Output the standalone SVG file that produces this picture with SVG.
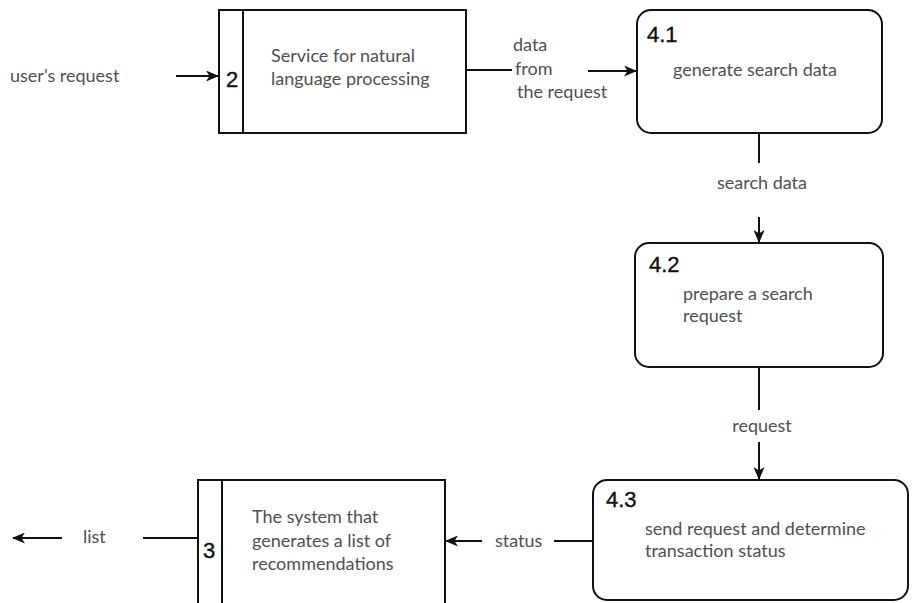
<svg xmlns="http://www.w3.org/2000/svg" width="913" height="603" viewBox="0 0 913 603">
<defs>
<style>
.box{fill:#fff;stroke:#111;stroke-width:2}
.ln{fill:none;stroke:#111;stroke-width:2}
.num{font-family:"Liberation Sans",Arial,sans-serif;font-size:22px;fill:#111;stroke:#111;stroke-width:0.4}
.lbl{font-family:Lato,"Open Sans",sans-serif;font-size:18px;fill:#505050}
</style>
<marker id="ah" viewBox="0 0 13 11" refX="12" refY="5.5" markerWidth="13" markerHeight="11" markerUnits="userSpaceOnUse" orient="auto">
<path d="M0,0 L13,5.5 L0,11 L3.5,5.5 Z" fill="#111"/>
</marker>
</defs>
<rect width="913" height="603" fill="#fff"/>
<g id="connectors">
<line class="ln" x1="176" y1="76" x2="218" y2="76" marker-end="url(#ah)"/>
<line class="ln" x1="466" y1="70" x2="512" y2="70"/>
<line class="ln" x1="588" y1="71" x2="636" y2="71" marker-end="url(#ah)"/>
<line class="ln" x1="759" y1="133" x2="759" y2="163"/>
<line class="ln" x1="759" y1="217" x2="759" y2="242" marker-end="url(#ah)"/>
<line class="ln" x1="759" y1="367" x2="759" y2="410"/>
<line class="ln" x1="759" y1="442" x2="759" y2="479" marker-end="url(#ah)"/>
<line class="ln" x1="593" y1="541" x2="554" y2="541"/>
<line class="ln" x1="482" y1="541" x2="446" y2="541" marker-end="url(#ah)"/>
<line class="ln" x1="198" y1="538" x2="143" y2="538"/>
<line class="ln" x1="62" y1="538" x2="13" y2="538" marker-end="url(#ah)"/>
<text class="lbl" x="10" y="82">user's request</text>
<text class="lbl" x="513" y="51">data</text>
<text class="lbl" x="515" y="75">from</text>
<text class="lbl" x="517" y="98">the request</text>
<text class="lbl" x="762" y="189" text-anchor="middle">search data</text>
<text class="lbl" x="762" y="432" text-anchor="middle">request</text>
<text class="lbl" x="495" y="547">status</text>
<text class="lbl" x="83" y="543">list</text>
</g>
<g id="node-2">
<rect class="box" x="219" y="10" width="247" height="123"/>
<line class="ln" x1="243" y1="10" x2="243" y2="133"/>
<text class="num" x="226" y="87">2</text>
<text class="lbl" x="271" y="62">Service for natural</text>
<text class="lbl" x="271" y="85">language processing</text>
</g>
<g id="node-4-1">
<rect class="box" x="637" y="10" width="245" height="123" rx="14"/>
<text class="num" x="647" y="42">4.1</text>
<text class="lbl" x="673" y="76">generate search data</text>
</g>
<g id="node-4-2">
<rect class="box" x="635" y="243" width="248" height="124" rx="14"/>
<text class="num" x="649" y="272">4.2</text>
<text class="lbl" x="683" y="300">prepare a search</text>
<text class="lbl" x="683" y="322">request</text>
</g>
<g id="node-4-3">
<rect class="box" x="593" y="480" width="315" height="120" rx="14"/>
<text class="num" x="606" y="507">4.3</text>
<text class="lbl" x="645" y="535">send request and determine</text>
<text class="lbl" x="645" y="557">transaction status</text>
</g>
<g id="node-3">
<rect class="box" x="198" y="480" width="247" height="130"/>
<line class="ln" x1="222" y1="480" x2="222" y2="603"/>
<text class="num" x="203" y="558">3</text>
<text class="lbl" x="252" y="523">The system that</text>
<text class="lbl" x="252" y="547">generates a list of</text>
<text class="lbl" x="252" y="570">recommendations</text>
</g>
</svg>
